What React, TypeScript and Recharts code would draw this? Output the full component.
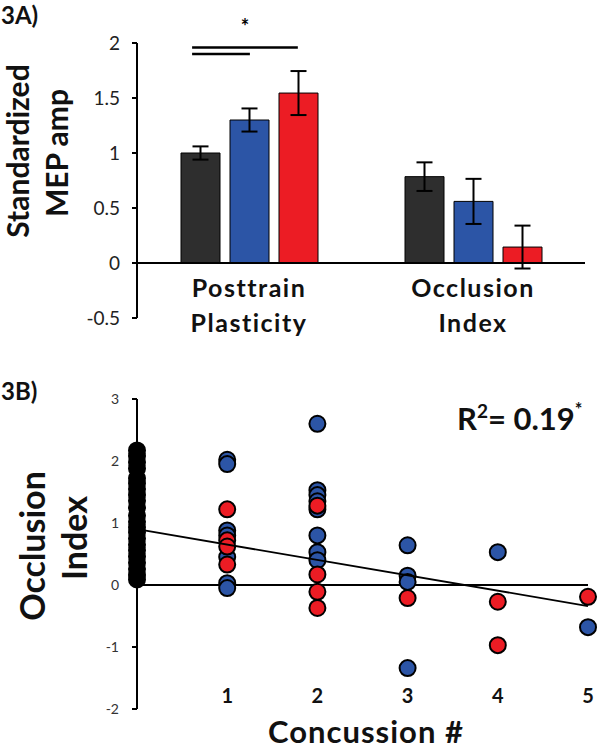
import React from 'react';
import {
  Bar,
  BarChart,
  ErrorBar,
  ReferenceLine,
  Scatter,
  ScatterChart,
  XAxis,
  YAxis,
} from 'recharts';

// 3A) standardized MEP amplitude, mean and SE per group
const groups = ['Posttrain Plasticity', 'Occlusion Index'];
const blackMean = [1.0, 0.785];
const blackErr = [0.06, 0.13];
const blueMean = [1.3, 0.56];
const blueErr = [0.105, 0.205];
const redMean = [1.545, 0.145];
const redErr = [0.2, 0.195];
const ampTicks = [-0.5, 0, 0.5, 1, 1.5, 2];

// significance brackets (x as fraction of the plot width)
const sigLines = [
  { from: 0.123, to: 0.359, y: 1.96, star: true },
  { from: 0.123, to: 0.252, y: 1.9, star: false },
];

// 3B) occlusion index by number of concussions
const controlOI = [
  2.17, 2.08, 1.98, 1.88, 1.72, 1.64, 1.55, 1.45, 1.36, 1.25, 1.12, 1.02,
  0.93, 0.85, 0.75, 0.65, 0.56, 0.46, 0.36, 0.26, 0.16, 0.09,
];
const bluePts: [number, number][] = [
  [1, 2.02], [1, 1.95], [1, 0.88], [1, 0.8], [1, 0.45], [1, 0.03], [1, -0.05],
  [2, 2.6], [2, 1.53], [2, 1.45], [2, 1.35], [2, 1.22], [2, 0.8], [2, 0.53], [2, 0.4],
  [3, 0.64], [3, 0.15], [3, 0.05], [3, -1.34],
  [4, 0.53],
  [5, -0.68],
];
const redPts: [number, number][] = [
  [1, 1.22], [1, 0.72], [1, 0.62], [1, 0.33],
  [2, 1.28], [2, 0.17], [2, -0.11], [2, -0.37],
  [3, -0.21],
  [4, -0.27], [4, -0.97],
  [5, -0.19],
];
const fitLine = [
  { x: 0, y: 0.9 },
  { x: 5, y: -0.34 },
];
const oiTicks = [-2, -1, 0, 1, 2, 3];
const concTicks = [1, 2, 3, 4, 5];

const BLACK = '#2e2e2e';
const BLUE = '#2c55a6';
const RED = '#ec1c24';
const FONT = 'Lato, "Open Sans", sans-serif';

const barData = groups.map((g, i) => ({
  group: g,
  black: blackMean[i],
  blackErr: blackErr[i],
  blue: blueMean[i],
  blueErr: blueErr[i],
  red: redMean[i],
  redErr: redErr[i],
}));

const controlData = controlOI.map((y) => ({ x: 0, y }));
const blueData = bluePts.map(([x, y]) => ({ x, y }));
const redData = redPts.map(([x, y]) => ({ x, y }));

const dot = (fill: string) => (p: any) => (
  <circle cx={p.cx} cy={p.cy} r={8} fill={fill} stroke="#000" strokeWidth={2} />
);

function GroupTick(p: any) {
  const [l1, l2] = String(p.payload.value).split(' ');
  return (
    <g>
      <text x={p.x} y={p.y - 21} textAnchor="middle" fontSize={25} fontWeight="bold" letterSpacing={1.5} fill="#111" fontFamily={FONT}>
        {l1}
      </text>
      <text x={p.x} y={p.y + 14} textAnchor="middle" fontSize={25} fontWeight="bold" letterSpacing={1.5} fill="#111" fontFamily={FONT}>
        {l2}
      </text>
    </g>
  );
}

function ConcTick(p: any) {
  return (
    <text x={p.x} y={p.y - 6} textAnchor="middle" fontSize={20} fontWeight="bold" fill="#111" fontFamily={FONT}>
      {p.payload.value}
    </text>
  );
}

export default function App() {
  const axisStroke = { stroke: '#000', strokeWidth: 2 };
  return (
    <div style={{ position: 'absolute', left: 0, top: 0, width: 600, height: 749, background: '#fff', fontFamily: FONT }}>
      <div style={{ position: 'absolute', left: 0, top: 0 }}>
        <BarChart
          width={600}
          height={350}
          data={barData}
          margin={{ top: 43, right: 15, left: 0, bottom: 0 }}
          barGap={10}
        >
          <XAxis dataKey="group" axisLine={false} tickLine={false} tickSize={0} tickMargin={0} height={32} tick={GroupTick} interval={0} />
          <XAxis xAxisId="sig" type="number" domain={[0, 1]} allowDataOverflow hide />
          <YAxis
            type="number"
            domain={[-0.5, 2]}
            ticks={ampTicks}
            interval={0}
            width={137}
            axisLine={axisStroke}
            tickLine={axisStroke}
            tickSize={5}
            tickMargin={12}
            tick={{ fontSize: 19, fill: '#222', fontFamily: FONT }}
          />
          <Bar dataKey="black" fill={BLACK} stroke="#000" strokeWidth={1} barSize={39} isAnimationActive={false}>
            <ErrorBar dataKey="blackErr" width={8} strokeWidth={2} stroke="#000" />
          </Bar>
          <Bar dataKey="blue" fill={BLUE} stroke="#000" strokeWidth={1} barSize={39} isAnimationActive={false}>
            <ErrorBar dataKey="blueErr" width={8} strokeWidth={2} stroke="#000" />
          </Bar>
          <Bar dataKey="red" fill={RED} stroke="#000" strokeWidth={1} barSize={39} isAnimationActive={false}>
            <ErrorBar dataKey="redErr" width={8} strokeWidth={2} stroke="#000" />
          </Bar>
          <ReferenceLine y={0} stroke="#000" strokeWidth={2} />
          {sigLines.map((s, i) => (
            <ReferenceLine
              key={i}
              xAxisId="sig"
              segment={[
                { x: s.from, y: s.y },
                { x: s.to, y: s.y },
              ]}
              stroke="#000"
              strokeWidth={2.5}
              ifOverflow="visible"
              label={s.star ? { value: '*', position: 'top', offset: 13, fontSize: 20, fill: '#000', fontWeight: 'bold' } : undefined}
            />
          ))}
        </BarChart>
      </div>

      <div style={{ position: 'absolute', left: 0, top: 350 }}>
        <ScatterChart width={600} height={399} margin={{ top: 49, right: 12, left: 0, bottom: 0 }}>
          <XAxis
            type="number"
            dataKey="x"
            domain={[0, 5]}
            ticks={concTicks}
            interval={0}
            axisLine={false}
            tickLine={false}
            tickSize={0}
            tickMargin={0}
            height={40}
            tick={ConcTick}
          />
          <YAxis
            type="number"
            dataKey="y"
            domain={[-2, 3]}
            ticks={oiTicks}
            interval={0}
            width={137}
            axisLine={axisStroke}
            tickLine={axisStroke}
            tickSize={5}
            tickMargin={13}
            tick={{ fontSize: 14, fill: '#333', fontFamily: FONT }}
          />
          <ReferenceLine y={0} stroke="#000" strokeWidth={2} />
          <Scatter data={controlData} shape={dot('#000')} isAnimationActive={false} />
          <Scatter data={blueData} shape={dot(BLUE)} isAnimationActive={false} />
          <Scatter data={redData} shape={dot(RED)} isAnimationActive={false} />
          <Scatter data={fitLine} line={{ stroke: '#000', strokeWidth: 1.8 }} shape={() => <g />} isAnimationActive={false} />
        </ScatterChart>
      </div>

      <svg width={600} height={749} style={{ position: 'absolute', left: 0, top: 0, pointerEvents: 'none' }} fontFamily={FONT} fontWeight="bold" fill="#111">
        <text x={1} y={24} fontSize={24}>3A)</text>
        <text transform="translate(29,151) rotate(-90)" textAnchor="middle" fontSize={30}>Standardized</text>
        <text transform="translate(68,153) rotate(-90)" textAnchor="middle" fontSize={30}>MEP amp</text>

        <text x={1} y={400} fontSize={24}>3B)</text>
        <text transform="translate(45,546) rotate(-90)" textAnchor="middle" fontSize={34}>Occlusion</text>
        <text transform="translate(87,538) rotate(-90)" textAnchor="middle" fontSize={34}>Index</text>
        <text x={366} y={743} textAnchor="middle" fontSize={31} letterSpacing={1}>Concussion #</text>
        <text x={457} y={430} fontSize={31}>
          R<tspan fontSize={19} dy={-12}>2</tspan>
          <tspan dy={12}>= 0.19</tspan>
          <tspan fontSize={18} dy={-14}>*</tspan>
        </text>
      </svg>
    </div>
  );
}
